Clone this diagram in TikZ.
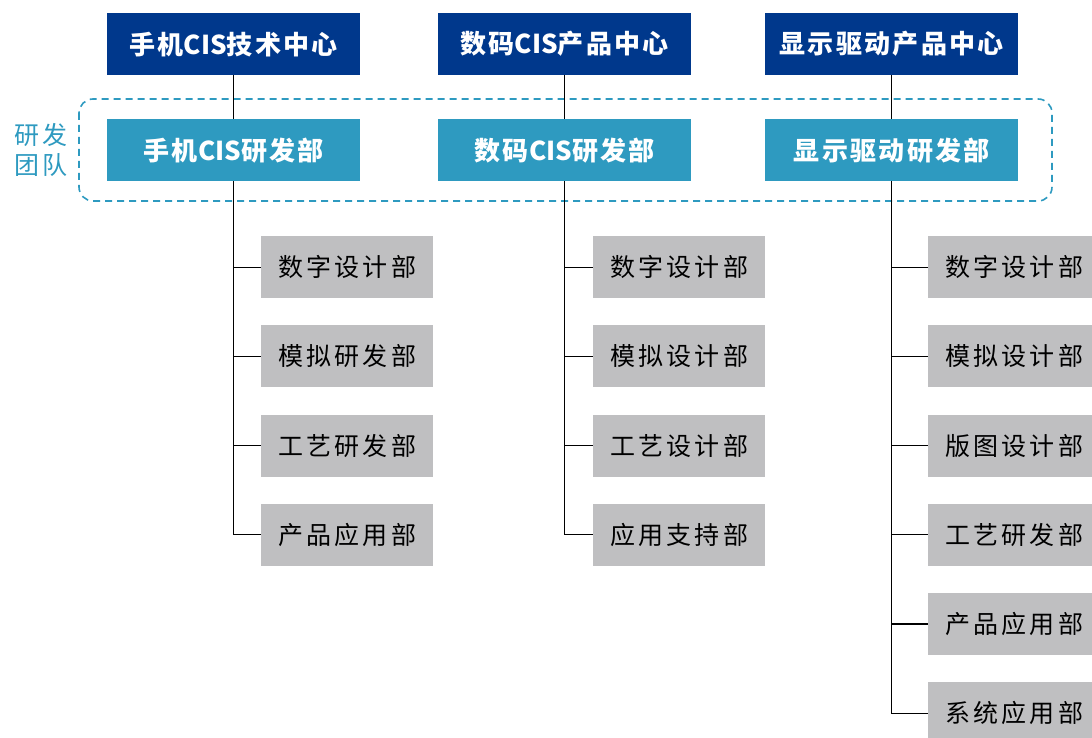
\documentclass[tikz,border=0pt]{standalone}
\usepackage{fontspec}
\newfontfamily\cjk{Noto Sans CJK SC}
\newfontfamily\cjktit[LetterSpace=9]{Noto Sans CJK SC}
\newfontfamily\cjkesp[LetterSpace=13]{Noto Sans CJK SC}
\newcommand{\cis}{{\cjk\bfseries CIS}}
\definecolor{azulosc}{RGB}{0,56,140}
\definecolor{azulclaro}{RGB}{46,154,192}
\definecolor{grisclaro}{RGB}{191,191,193}
\tikzset{
  caja/.style={minimum width=253pt, minimum height=62pt, inner sep=0pt, anchor=north west, text=white, font=\cjktit\bfseries\fontsize{26}{28}\selectfont},
  centro/.style={caja, fill=azulosc},
  equipo/.style={caja, fill=azulclaro},
  depto/.style={minimum width=172pt, minimum height=62pt, inner sep=0pt, anchor=north west, fill=grisclaro, font=\cjkesp\fontsize{25}{28}\selectfont},
  rama/.style={black, line width=1.2pt}
}
\begin{document}
\begin{tikzpicture}[x=1pt, y=-1pt]
    \useasboundingbox (0,0) rectangle (1092,738);
    \clip (0,0) rectangle (1092,738);

    % Centros
    \node[centro] (c1) at (107,13) {手机\cis 技术中心};
    \node[centro] (c2) at (438,13) {数码\cis 产品中心};
    \node[centro] (c3) at (765,13) {显示驱动产品中心};

    % Equipo de I+D
    \draw[azulclaro, line width=1.6pt, dash pattern=on 7pt off 5pt, rounded corners=14pt] (79,99) rectangle (1052,201);
    \node[text=azulclaro, align=center, font=\cjktit\fontsize{25}{30}\selectfont] (etiqueta) at (41,150) {研发\\团队};
    \node[equipo] (r1) at (107,119) {手机\cis 研发部};
    \node[equipo] (r2) at (438,119) {数码\cis 研发部};
    \node[equipo] (r3) at (765,119) {显示驱动研发部};

    \draw[rama] (c1) -- (r1);
    \draw[rama] (c2) -- (r2);
    \draw[rama] (c3) -- (r3);

    % Departamentos
    \foreach \t [count=\k] in {数字设计部,模拟研发部,工艺研发部,产品应用部} {
        \node[depto] (a\k) at (261,{236+89.2*(\k-1)}) {\t};
        \draw[rama] (r1.south) |- (a\k.west);
    }
    \foreach \t [count=\k] in {数字设计部,模拟设计部,工艺设计部,应用支持部} {
        \node[depto] (b\k) at (593,{236+89.2*(\k-1)}) {\t};
        \draw[rama] (r2.south) |- (b\k.west);
    }
    \foreach \t [count=\k] in {数字设计部,模拟设计部,版图设计部,工艺研发部,产品应用部,系统应用部} {
        \node[depto] (d\k) at (928,{236+89.2*(\k-1)}) {\t};
        \draw[rama] (r3.south) |- (d\k.west);
    }
\end{tikzpicture}
\end{document}
